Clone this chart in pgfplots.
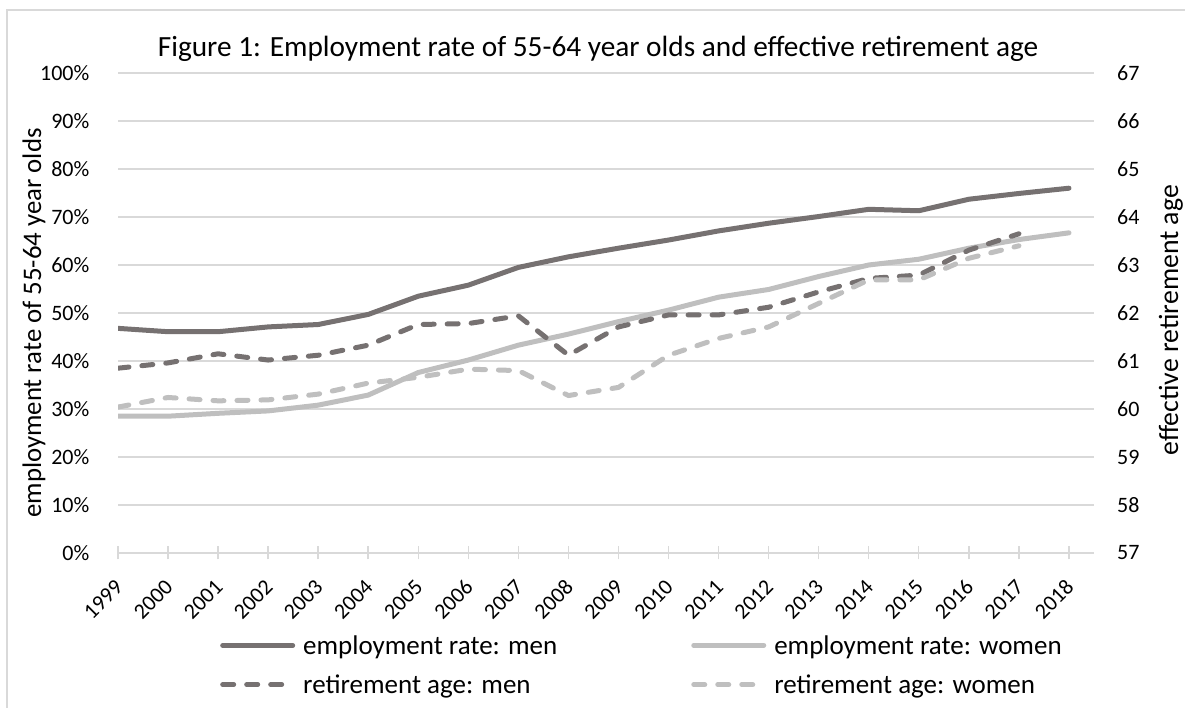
\documentclass[border=0pt]{standalone}
\usepackage{fontspec}
\setmainfont{Carlito}
\usepackage{pgfplots}
\pgfplotsset{compat=1.18}
\usepackage{pgfplotstable}

\definecolor{darkgr}{HTML}{767171}
\definecolor{lightgr}{HTML}{BFBFBF}
\definecolor{gridgr}{HTML}{D9D9D9}

% employment rate (%) and effective retirement age
\pgfplotstableread{
year empmen empwomen
1999 46.8 28.5
2000 46.1 28.5
2001 46.1 29.1
2002 47.1 29.6
2003 47.6 30.8
2004 49.7 32.9
2005 53.5 37.6
2006 55.8 40.2
2007 59.5 43.3
2008 61.7 45.6
2009 63.5 48.2
2010 65.2 50.6
2011 67.1 53.3
2012 68.7 54.9
2013 70.1 57.6
2014 71.6 60.0
2015 71.3 61.2
2016 73.7 63.5
2017 74.9 65.3
2018 76.0 66.7
}\emptable

\pgfplotstableread{
year retmen retwomen
1999 60.85 60.04
2000 60.96 60.24
2001 61.15 60.17
2002 61.02 60.19
2003 61.12 60.31
2004 61.33 60.54
2005 61.76 60.66
2006 61.78 60.83
2007 61.94 60.80
2008 61.12 60.28
2009 61.71 60.45
2010 61.96 61.12
2011 61.96 61.47
2012 62.12 61.71
2013 62.44 62.20
2014 62.72 62.69
2015 62.79 62.69
2016 63.31 63.14
2017 63.65 63.40
}\rettable

\pgfplotsset{
  common/.style={
    at={(118pt,155pt)}, anchor=south west,
    scale only axis, width=976pt, height=480pt,
    xmin=1999, xmax=2018.5,
    /pgf/number format/assume math mode=true,
    every tick label/.append style={font=\fontsize{22}{26}\selectfont},
  },
  thk/.style={line width=5pt, line cap=round, line join=round},
  dsh/.style={thk, dash pattern=on 11pt off 13pt},
}

\begin{document}
\begin{tikzpicture}
\useasboundingbox (0pt,0pt) rectangle (1185pt,708pt);
\draw[gridgr, line width=1.5pt] (7pt,0pt) -- (7pt,698pt) -- (1185pt,698pt);
\node[anchor=base, font=\fontsize{29.3}{34}\selectfont] at (598pt,651pt)
  {Figure 1: Employment rate of 55-64 year olds and effective retirement age};

\begin{axis}[common,
  ymin=0, ymax=100, ytick={0,10,...,100},
  yticklabel={\pgfmathprintnumber{\tick}\%},
  axis x line*=bottom, axis y line*=left,
  x axis line style={-, gridgr, line width=1.5pt},
  y axis line style={draw=none},
  ytick style={draw=none},
  xtick={1999,...,2018},
  xticklabel style={/pgf/number format/1000 sep={}, inner sep=0pt,
    xshift=1pt, yshift=-24pt, rotate=45, anchor=east},
  xtick style={gridgr, line width=1.5pt},
  major tick length=13pt, tick align=center,
  yticklabel style={inner sep=0pt, anchor=east, xshift=-22pt},
  ymajorgrids, major grid style={gridgr, line width=1.5pt},
  ylabel={employment rate of 55-64 year olds},
  ylabel style={at={(axis description cs:-0.086,0.479)}, anchor=center,
    font=\fontsize{26.8}{32}\selectfont},
]
\addplot[darkgr, thk] table[x=year, y=empmen] {\emptable};
\addplot[lightgr, thk] table[x=year, y=empwomen] {\emptable};
\end{axis}

\begin{axis}[common,
  ymin=57, ymax=67, ytick={57,...,67},
  axis y line*=right, hide x axis,
  y axis line style={draw=none},
  ytick style={draw=none},
  yticklabel style={inner sep=0pt, anchor=west, xshift=23pt},
  ylabel={effective retirement age},
  ylabel style={at={(axis description cs:1.0789,0.485)}, anchor=center,
    font=\fontsize{27.8}{32}\selectfont},
  legend columns=2,
  legend cell align=left,
  legend image code/.code={\draw[#1] (0pt,0pt) -- (70pt,0pt);},
  legend style={draw=none, fill=none, inner sep=0pt,
    at={(axis description cs:0.1045,-0.2333)}, anchor=west,
    font=\fontsize{27}{32}\selectfont,
    row sep=15pt,
    /tikz/every odd column/.append style={column sep=6pt},
    /tikz/every even column/.append style={column sep=132pt}},
]
\addlegendimage{darkgr, thk}
\addlegendentry{employment rate: men}
\addlegendimage{lightgr, thk}
\addlegendentry{employment rate: women}
\addplot[darkgr, dsh] table[x=year, y=retmen] {\rettable};
\addlegendentry{retirement age: men}
\addplot[lightgr, dsh] table[x=year, y=retwomen] {\rettable};
\addlegendentry{retirement age: women}
\end{axis}
\end{tikzpicture}
\end{document}
